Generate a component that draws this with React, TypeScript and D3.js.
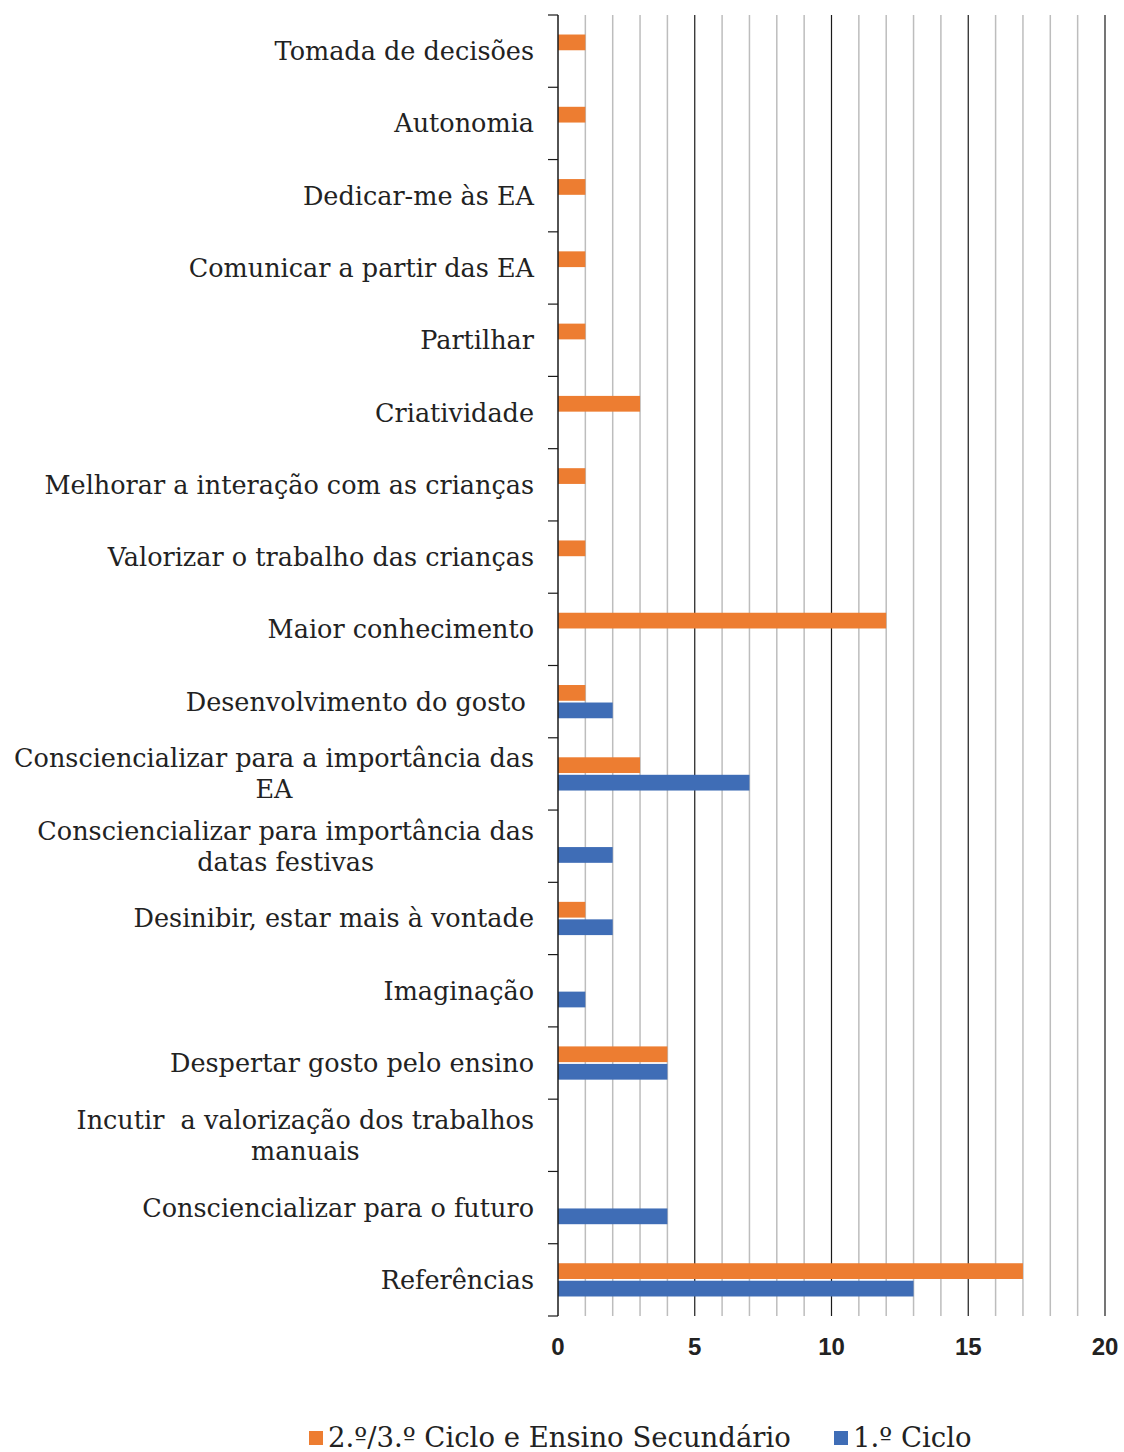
import { useEffect, useRef } from "react";
import * as d3 from "d3";

const categories = [
  "Tomada de decisões",
  "Autonomia",
  "Dedicar-me às EA",
  "Comunicar a partir das EA",
  "Partilhar",
  "Criatividade",
  "Melhorar a interação com as crianças",
  "Valorizar o trabalho das crianças",
  "Maior conhecimento",
  "Desenvolvimento do gosto ",
  "Consciencializar para a importância das\nEA",
  "Consciencializar para importância das\ndatas festivas",
  "Desinibir, estar mais à vontade",
  "Imaginação",
  "Despertar gosto pelo ensino",
  "Incutir  a valorização dos trabalhos\nmanuais",
  "Consciencializar para o futuro",
  "Referências",
];

const seriesNames = ["2.º/3.º Ciclo e Ensino Secundário", "1.º Ciclo"];
const secundario = [1, 1, 1, 1, 1, 3, 1, 1, 12, 1, 3, 0, 1, 0, 4, 0, 0, 17];
const primeiro = [0, 0, 0, 0, 0, 0, 0, 0, 0, 2, 7, 2, 2, 1, 4, 0, 4, 13];
const xTicks = [0, 5, 10, 15, 20];
const colors = ["#ED7D31", "#3F6DB6"];

export default function App() {
  const svgRef = useRef<SVGSVGElement>(null);

  useEffect(() => {
    document.body.style.margin = "0";
    const W = 1124, H = 1452;
    const margin = { top: 15, right: 19, bottom: 136, left: 558 };
    const svg = d3.select(svgRef.current).attr("width", W).attr("height", H);
    svg.selectAll("*").remove();

    const x = d3.scaleLinear().domain([0, 20]).range([margin.left, W - margin.right]);
    const y = d3.scaleBand<string>().domain(categories).range([margin.top, H - margin.bottom]).paddingInner(0).paddingOuter(0);
    const inner = d3.scaleBand<number>().domain([0, 1]).range([y.bandwidth() * 0.27, y.bandwidth() * 0.73]).paddingInner(0.1);

    // gridlines
    const grid = svg.append("g");
    d3.range(1, 21).forEach((v) => {
      grid.append("line")
        .attr("x1", x(v)).attr("x2", x(v))
        .attr("y1", margin.top).attr("y2", H - margin.bottom)
        .attr("stroke", v % 5 === 0 ? "#1a1a1a" : "#bdbdbd")
        .attr("stroke-width", v % 5 === 0 ? 1.2 : 1.5);
    });

    const data = [secundario, primeiro];
    data.forEach((vals, si) => {
      svg.append("g").selectAll("rect")
        .data(vals)
        .join("rect")
        .attr("x", x(0))
        .attr("y", (d, i) => (y(categories[i]) as number) + (inner(si) as number))
        .attr("width", (d) => x(d) - x(0))
        .attr("height", inner.bandwidth())
        .attr("fill", colors[si]);
    });

    // y axis line and ticks at category boundaries
    const ax = svg.append("g");
    ax.append("line")
      .attr("x1", x(0)).attr("x2", x(0))
      .attr("y1", margin.top).attr("y2", H - margin.bottom)
      .attr("stroke", "#1a1a1a").attr("stroke-width", 1.5);
    d3.range(categories.length + 1).forEach((i) => {
      const yy = margin.top + i * y.step();
      ax.append("line")
        .attr("x1", x(0) - 10).attr("x2", x(0))
        .attr("y1", yy).attr("y2", yy)
        .attr("stroke", "#1a1a1a").attr("stroke-width", 1.2);
    });

    // category labels
    const labelRight = x(0) - 24;
    categories.forEach((c) => {
      const lines = c.split("\n");
      const cy = (y(c) as number) + y.bandwidth() / 2;
      const t = svg.append("text")
        .attr("font-family", "DejaVu Serif")
        .attr("font-size", 25.5)
        .attr("fill", "#222")
        .style("white-space", "pre");
      const lh = 31;
      lines.forEach((ln, li) => {
        t.append("tspan")
          .attr("x", labelRight)
          .attr("y", cy + 9 + (li - (lines.length - 1) / 2) * lh)
          .text(ln);
      });
      const spans = t.selectAll<SVGTSpanElement, unknown>("tspan");
      const widths = spans.nodes().map((n) => n.getComputedTextLength());
      const maxW = d3.max(widths) || 0;
      if (lines.length > 1) {
        spans.attr("x", labelRight - maxW / 2).attr("text-anchor", "middle");
      } else {
        spans.attr("text-anchor", "end");
      }
    });

    // x tick labels
    svg.append("g").selectAll("text")
      .data(xTicks)
      .join("text")
      .attr("x", (d) => x(d))
      .attr("y", 1355)
      .attr("text-anchor", "middle")
      .attr("font-family", "Liberation Sans")
      .attr("font-weight", "bold")
      .attr("font-size", 24)
      .attr("fill", "#222")
      .text((d) => d);

    // legend
    const legendItems = [
      { name: seriesNames[0], color: colors[0], x: 309 },
      { name: seriesNames[1], color: colors[1], x: 834 },
    ];
    const lg = svg.append("g");
    legendItems.forEach((it) => {
      lg.append("rect")
        .attr("x", it.x).attr("y", 1431)
        .attr("width", 14).attr("height", 14)
        .attr("fill", it.color);
      lg.append("text")
        .attr("x", it.x + 19).attr("y", 1447)
        .attr("font-family", "DejaVu Serif")
        .attr("font-size", 27.5)
        .attr("fill", "#222")
        .text(it.name);
    });
  }, []);

  return <svg ref={svgRef} />;
}
